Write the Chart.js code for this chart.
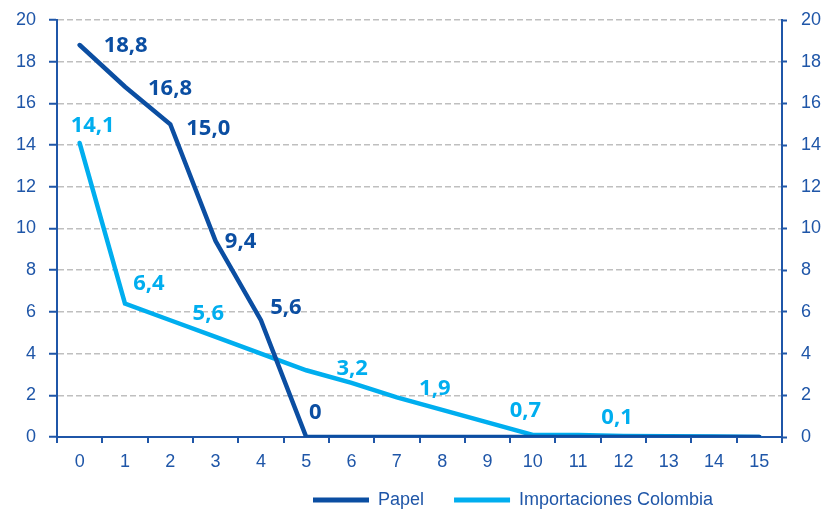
<!DOCTYPE html>
<html>
<head>
<meta charset="utf-8">
<script src="https://cdn.jsdelivr.net/npm/chart.js@4.4.1/dist/chart.umd.min.js"></script>
<style>
  html, body { margin: 0; padding: 0; background: #fff; }
  #wrap { width: 827px; height: 512px; }
</style>
</head>
<body>
<div id="wrap"><canvas id="chart" width="827" height="512"></canvas></div>
<script>
// Datos
const categories = ['0', '1', '2', '3', '4', '5', '6', '7', '8', '9', '10', '11', '12', '13', '14', '15'];
const papel = [18.8, 16.8, 15.0, 9.4, 5.6, 0, 0, 0, 0, 0, 0, 0, 0, 0, 0, 0];
const importaciones = [14.1, 6.4, 5.6, 4.8, 4.0, 3.2, 2.6, 1.9, 1.3, 0.7, 0.1, 0.1, 0.05, 0.03, 0.02, 0];
const yMin = 0, yMax = 20, yStep = 2;

// Puntos con etiqueta
const papelLabelIdx = [0, 1, 2, 3, 4, 5];
const impLabelIdx = [0, 1, 2, 5, 7, 9, 11];

// Desplazamiento de cada etiqueta respecto a su punto (px)
const papelLabelOffset = [[46, 1], [45, 2], [38, 4], [25, 1], [25, -13], [9, -24]];
const impLabelOffset = [[13, -17], [24, -20], [38, -7], [46, -2], [38, -9], [38, -12], [39, -17]];

const DARK = '#0B4EA2';
const LIGHT = '#00AEEF';
const AXIS = '#1F56A8';
const GRID = '#BFBFBF';
const TICK_FONT = { family: 'Liberation Sans, Arial, sans-serif', size: 18 };

function fmt(v) {
    return v === 0 ? '0' : v.toFixed(1).replace('.', ',');
}

function noPad(s) {
    s.paddingTop = 0;
    s.paddingBottom = 0;
    s.paddingLeft = 0;
    s.paddingRight = 0;
}

// Etiquetas de datos
const dataLabels = {
    id: 'dataLabels',
    afterDatasetsDraw(chart) {
        const ctx = chart.ctx;
        const sets = [
            { ds: 0, idx: papelLabelIdx, off: papelLabelOffset, color: DARK },
            { ds: 1, idx: impLabelIdx, off: impLabelOffset, color: LIGHT }
        ];
        ctx.save();
        ctx.font = 'bold 22px "Noto Sans", sans-serif';
        ctx.textAlign = 'center';
        ctx.textBaseline = 'middle';
        sets.forEach(s => {
            const meta = chart.getDatasetMeta(s.ds);
            const values = chart.data.datasets[s.ds].data;
            s.idx.forEach((i, k) => {
                const pt = meta.data[i];
                ctx.fillStyle = s.color;
                ctx.fillText(fmt(values[i]), pt.x + s.off[k][0], pt.y + s.off[k][1]);
            });
        });
        ctx.restore();
    }
};

// Leyenda: altura fija y desplazada a la derecha como en el original
const legendShift = {
    id: 'legendShift',
    beforeLayout(chart) {
        const lg = chart.legend;
        if (lg && !lg._fixed) {
            const fit = lg.fit;
            lg.fit = function () { fit.call(this); this.height = 33; };
            lg._fixed = true;
        }
    },
    afterLayout(chart) {
        const lg = chart.legend;
        const w = lg.right - lg.left;
        const pad = lg.options.labels.padding;
        lg.left = 313 - pad;
        lg.right = lg.left + w;
        lg.top = 500 - pad - 9;
        lg.bottom = chart.height;
        lg.height = lg.bottom - lg.top;
    }
};

const ctx = document.getElementById('chart').getContext('2d');
const chart = new Chart(ctx, {
    type: 'line',
    data: {
        labels: categories,
        datasets: [{
            label: 'Papel',
            data: papel,
            borderColor: DARK,
            backgroundColor: DARK,
            borderWidth: 4.5,
            borderCapStyle: 'round',
            pointRadius: 0,
            tension: 0,
            yAxisID: 'y'
        }, {
            label: 'Importaciones Colombia',
            data: importaciones,
            borderColor: LIGHT,
            backgroundColor: LIGHT,
            borderWidth: 4.5,
            borderCapStyle: 'round',
            pointRadius: 0,
            tension: 0,
            yAxisID: 'y'
        }]
    },
    options: {
        responsive: false,
        animation: false,
        devicePixelRatio: 1,
        layout: { padding: { top: 20, left: 0, right: 0, bottom: 0 } },
        plugins: {
            tooltip: { enabled: false },
            legend: {
                display: true,
                position: 'bottom',
                align: 'start',
                labels: {
                    boxWidth: 56,
                    boxHeight: 5,
                    padding: 30,
                    color: AXIS,
                    font: TICK_FONT,
                    useBorderRadius: true,
                    borderRadius: 2.5,
                    generateLabels(chart) {
                        return chart.data.datasets.map((d, i) => ({
                            text: d.label,
                            fillStyle: d.borderColor,
                            strokeStyle: d.borderColor,
                            lineWidth: 0,
                            fontColor: AXIS,
                            hidden: false,
                            datasetIndex: i
                        }));
                    }
                }
            }
        },
        scales: {
            x: {
                type: 'category',
                offset: true,
                grid: {
                    display: true,
                    drawOnChartArea: false,
                    offset: true,
                    tickLength: 6,
                    color: AXIS,
                    lineWidth: 2
                },
                border: { display: true, color: AXIS, width: 2 },
                ticks: { color: AXIS, font: TICK_FONT, padding: 8, maxRotation: 0 },
                afterFit(s) { s.height = 42; noPad(s); }
            },
            y: {
                position: 'left',
                min: yMin,
                max: yMax,
                ticks: { stepSize: yStep, color: AXIS, font: TICK_FONT, padding: 13 },
                grid: {
                    color: c => (c.tick && c.tick.value === 0) ? 'rgba(0,0,0,0)' : GRID,
                    lineWidth: 1.5,
                    tickColor: AXIS,
                    tickLength: 8,
                    tickWidth: 2,
                    tickBorderDash: []
                },
                border: { display: true, color: AXIS, width: 2, dash: [6, 3] },
                afterFit(s) { s.width = 57; noPad(s); }
            },
            y2: {
                position: 'right',
                min: yMin,
                max: yMax,
                ticks: { stepSize: yStep, color: AXIS, font: TICK_FONT, padding: 14 },
                grid: {
                    drawOnChartArea: false,
                    tickColor: AXIS,
                    tickLength: 5,
                    tickWidth: 2
                },
                border: { display: true, color: AXIS, width: 2 },
                afterFit(s) { s.width = 827 - 782; noPad(s); }
            }
        }
    },
    plugins: [dataLabels, legendShift]
});
</script>
</body>
</html>
